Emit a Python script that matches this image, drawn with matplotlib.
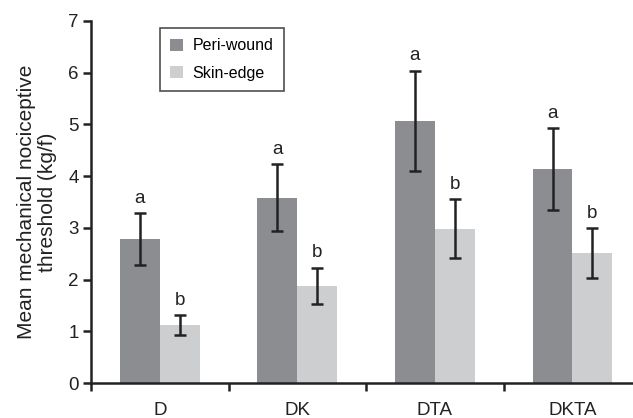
import matplotlib
matplotlib.use('Agg')
import matplotlib.pyplot as plt
import numpy as np

plt.rcParams['font.family'] = ['Liberation Sans', 'DejaVu Sans']

# 数据
groups = ['D', 'DK', 'DTA', 'DKTA']
peri = [2.78, 3.58, 5.07, 4.14]
peri_err = [0.50, 0.65, 0.97, 0.79]
skin = [1.12, 1.88, 2.98, 2.51]
skin_err = [0.20, 0.35, 0.57, 0.48]
peri_letters = ['a', 'a', 'a', 'a']
skin_letters = ['b', 'b', 'b', 'b']

dark = '#8c8d91'
light = '#cdced0'
w = 0.29
x = np.arange(len(groups))

fig = plt.figure(figsize=(6.33, 4.18), dpi=100)
ax = fig.add_axes([0.1438, 0.0837, 0.8562, 0.8663])

ekw = dict(ecolor='#222222', elinewidth=1.8, capsize=4, capthick=1.8)
ax.bar(x - w / 2, peri, w, color=dark, yerr=peri_err, error_kw=ekw, label='Peri-wound')
ax.bar(x + w / 2, skin, w, color=light, yerr=skin_err, error_kw=ekw, label='Skin-edge')

for i in range(len(groups)):
    ax.text(x[i] - w / 2, peri[i] + peri_err[i] + 0.12, peri_letters[i],
            ha='center', va='bottom', fontsize=13.5, color='#222222')
    ax.text(x[i] + w / 2, skin[i] + skin_err[i] + 0.12, skin_letters[i],
            ha='center', va='bottom', fontsize=13.5, color='#222222')

ax.set_ylim(0, 7)
ax.set_xlim(-0.5, 3.44)
ax.set_yticks(range(8))
ax.set_xticks(x)
ax.set_xticklabels(groups)
ax.set_xticks(np.arange(-0.5, 3.0, 1.0), minor=True)
ax.tick_params(axis='x', which='major', length=0, pad=14, labelsize=13.5, colors='#222222')
ax.tick_params(axis='x', which='minor', length=6, width=1.8, direction='out', color='#222222')
ax.tick_params(axis='y', length=6, width=1.8, labelsize=13.5, colors='#222222', pad=3)

for s in ['top', 'right']:
    ax.spines[s].set_visible(False)
for s in ['left', 'bottom']:
    ax.spines[s].set_linewidth(1.8)
    ax.spines[s].set_color('#222222')

ax.set_ylabel('Mean mechanical nociceptive\nthreshold (kg/f)', fontsize=15,
              color='#222222', labelpad=8, linespacing=1.15)

leg = ax.legend(loc='upper left', bbox_to_anchor=(0.127, 0.981), fontsize=11.5,
                frameon=True, fancybox=False, edgecolor='#222222',
                borderaxespad=0, handlelength=0.8, handleheight=0.8,
                labelspacing=0.8, borderpad=0.65, handletextpad=0.6)
leg.get_frame().set_linewidth(1.2)

fig.savefig('out.png', dpi=100, facecolor='white')
